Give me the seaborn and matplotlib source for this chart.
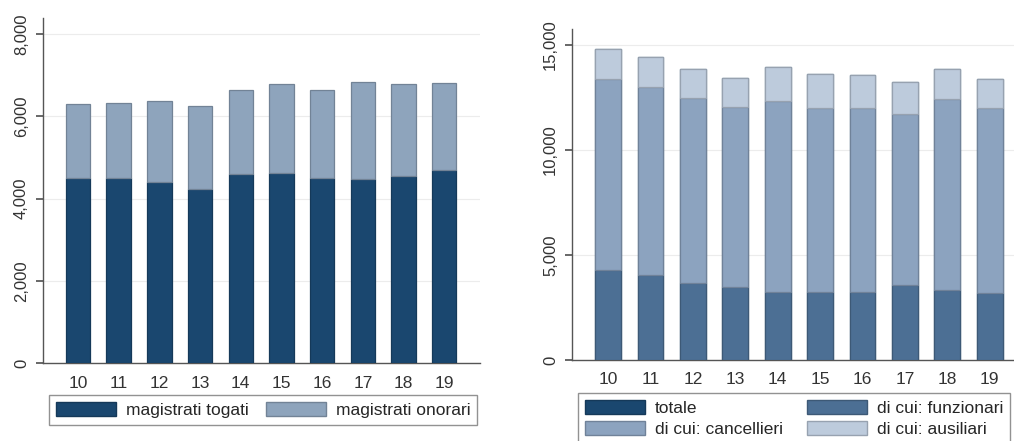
import matplotlib
matplotlib.use("Agg")
import matplotlib.pyplot as plt
import pandas as pd
import seaborn as sns
from matplotlib.patches import Patch
from matplotlib.ticker import FuncFormatter

years = ["10", "11", "12", "13", "14", "15", "16", "17", "18", "19"]

# left panel: magistrati
togati = [4500, 4510, 4410, 4240, 4590, 4630, 4510, 4480, 4550, 4700]
onorari = [1800, 1810, 1970, 2020, 2060, 2150, 2130, 2360, 2230, 2120]

# right panel: personale amministrativo
funzionari = [4270, 4030, 3690, 3470, 3250, 3230, 3220, 3550, 3350, 3190]
cancellieri = [9110, 8990, 8800, 8580, 9070, 8790, 8770, 8150, 9060, 8810]
ausiliari = [1430, 1390, 1380, 1380, 1650, 1600, 1570, 1550, 1450, 1370]

NAVY = "#1a476f"
ONOR = "#8ea4bc"
FUNZ = "#4c6f94"
CANC = "#8ca3bf"
AUSI = "#bdcbdc"

sns.set_theme(style="white")
plt.rcParams["font.family"] = ["Liberation Sans", "DejaVu Sans"]

fig = plt.figure(figsize=(10.14, 4.41), dpi=100)
ax1 = fig.add_axes([43 / 1014, 1 - 363 / 441, 437 / 1014, 345 / 441])
ax2 = fig.add_axes([572 / 1014, 1 - 360 / 441, 453 / 1014, 331 / 441])

left = pd.DataFrame({"anno": years, "togati": togati, "onorari": onorari})
right = pd.DataFrame({"anno": years, "funz": funzionari, "canc": cancellieri,
                      "ausi": ausiliari})
right["fc"] = right["funz"] + right["canc"]
right["tot"] = right["fc"] + right["ausi"]


def darker(c, f=0.8):
    r, g, b = matplotlib.colors.to_rgb(c)
    return (r * f, g * f, b * f)


def layer(ax, df, col, bottom, color, width):
    sns.barplot(data=df, x="anno", y=col, bottom=bottom, color=color,
                width=width, edgecolor=darker(color), linewidth=0.9,
                saturation=1, ax=ax, zorder=3)


layer(ax1, left, "togati", None, NAVY, 0.6)
layer(ax1, left, "onorari", left["togati"], ONOR, 0.6)

layer(ax2, right, "tot", None, NAVY, 0.61)
layer(ax2, right, "funz", None, FUNZ, 0.61)
layer(ax2, right, "canc", right["funz"], CANC, 0.61)
layer(ax2, right, "ausi", right["fc"], AUSI, 0.61)

fmt = FuncFormatter(lambda v, p: f"{int(v):,}")
for ax, top, ticks, xl in [(ax1, 8390, range(0, 8001, 2000), (-0.86, 9.88)),
                           (ax2, 15760, range(0, 15001, 5000), (-0.85, 9.83))]:
    ax.set_ylim(0, top)
    ax.set_xlim(*xl)
    ax.set_yticks(list(ticks))
    ax.yaxis.set_major_formatter(fmt)
    ax.set_xlabel("")
    ax.set_ylabel("")
    for s in ["top", "right"]:
        ax.spines[s].set_visible(False)
    for s in ["left", "bottom"]:
        ax.spines[s].set_color("#555555")
        ax.spines[s].set_linewidth(1.0)
    ax.grid(axis="y", color="#ececec", linewidth=0.8, zorder=0)
    ax.set_axisbelow(True)
    ax.tick_params(axis="y", left=True, length=5, color="#555555",
                   labelsize=12, labelcolor="#333333", pad=5)
    ax.tick_params(axis="x", bottom=False, labelsize=12.5, labelcolor="#333333",
                   pad=3)
    for lbl in ax.get_yticklabels():
        lbl.set_rotation(90)
        lbl.set_va("center")

h1 = [Patch(facecolor=NAVY, edgecolor=darker(NAVY)),
      Patch(facecolor=ONOR, edgecolor=darker(ONOR))]
fig.legend(h1, ["magistrati togati", "magistrati onorari"], ncol=2,
           loc="upper left", bbox_to_anchor=(49 / 1014, 1 - 395 / 441),
           fontsize=12.5, frameon=True, fancybox=False,
           edgecolor="#777777", handlelength=3.45, handleheight=0.86,
           borderpad=0.4, handletextpad=0.57, columnspacing=1.0,
           borderaxespad=0)

h2 = [Patch(facecolor=NAVY, edgecolor=darker(NAVY)),
      Patch(facecolor=CANC, edgecolor=darker(CANC)),
      Patch(facecolor=FUNZ, edgecolor=darker(FUNZ)),
      Patch(facecolor=AUSI, edgecolor=darker(AUSI))]
fig.legend(h2, ["totale", "di cui: cancellieri", "di cui: funzionari",
                "di cui: ausiliari"], ncol=2,
           loc="upper left", bbox_to_anchor=(578 / 1014, 1 - 393 / 441),
           fontsize=12.5, frameon=True, fancybox=False,
           edgecolor="#777777", handlelength=3.45, handleheight=0.86,
           borderpad=0.4, labelspacing=0.3, handletextpad=0.57,
           columnspacing=1.4, borderaxespad=0)

fig.savefig("out.png", dpi=100, facecolor="white")
